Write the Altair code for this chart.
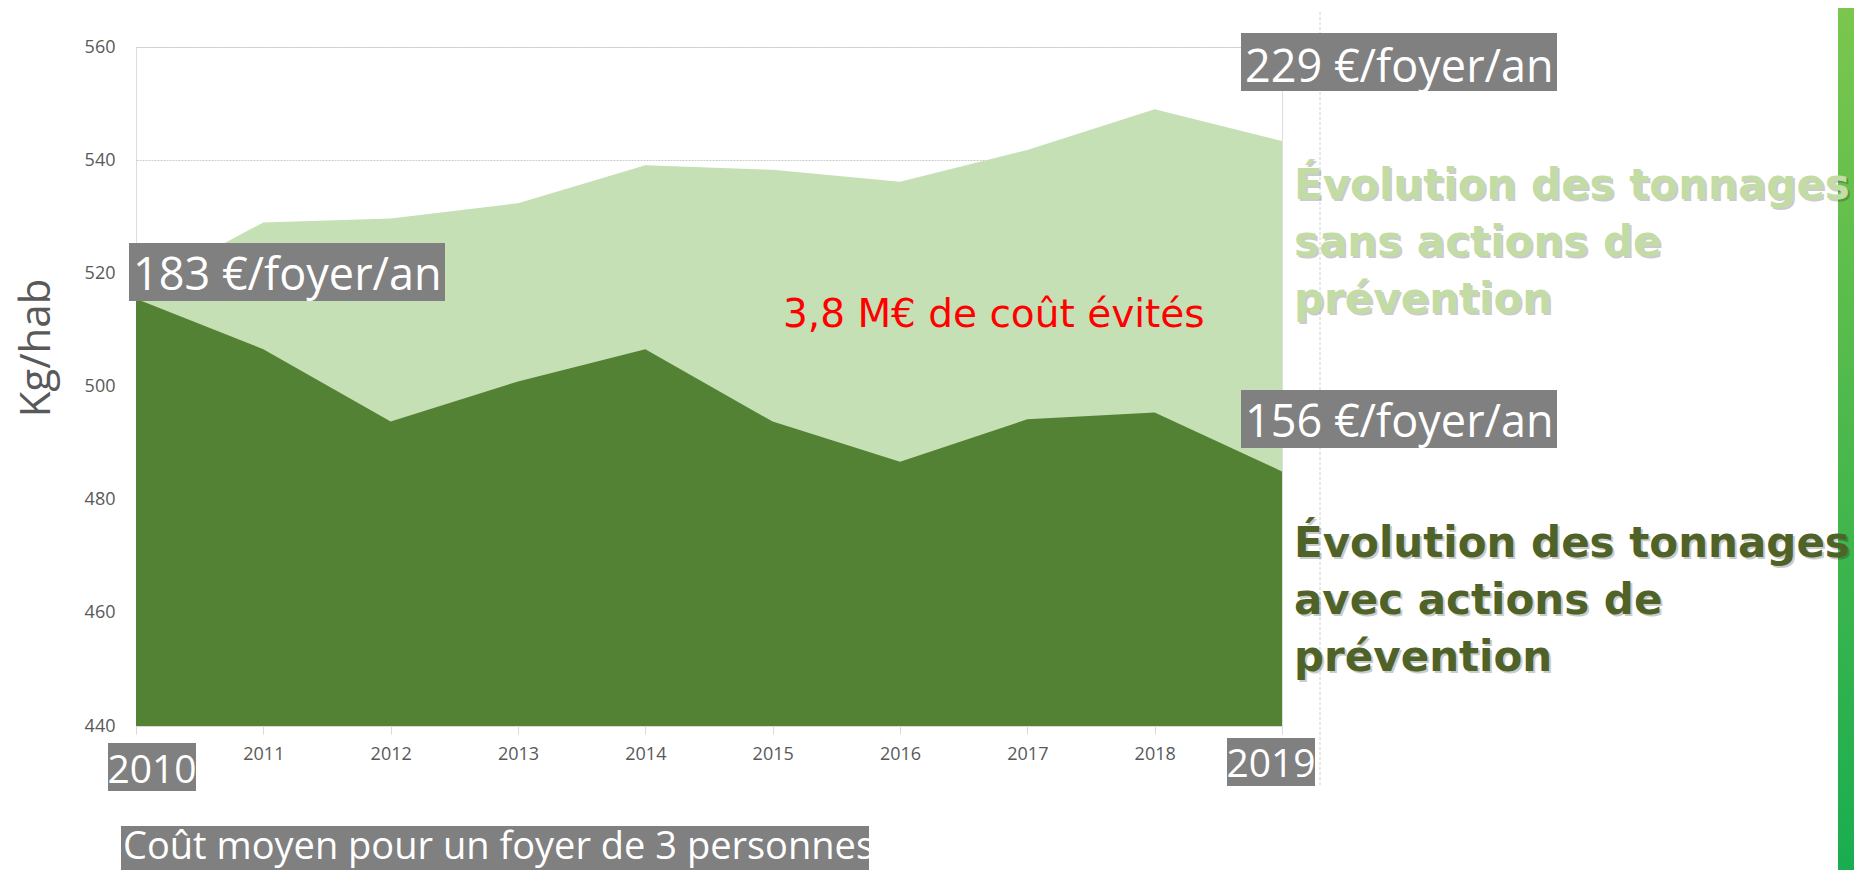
import altair as alt
import pandas as pd

# ---- data ----
years = [2010, 2011, 2012, 2013, 2014, 2015, 2016, 2017, 2018, 2019]
sans_actions = [517.0, 529.0, 529.7, 532.4, 539.1, 538.3, 536.2, 541.8, 549.0, 543.4]
avec_actions = [515.5, 506.6, 493.8, 500.9, 506.6, 493.8, 486.7, 494.2, 495.4, 485.0]
y_ticks = [440, 460, 480, 500, 520, 540, 560]

cost_start = "183 €/foyer/an"
cost_sans = "229 €/foyer/an"
cost_avec = "156 €/foyer/an"
year_first = "2010"
year_last = "2019"
avoided = "3,8 M€ de coût évités"
legend_sans = ["Évolution des tonnages", "sans actions de", "prévention"]
legend_avec = ["Évolution des tonnages", "avec actions de", "prévention"]
y_title = "Kg/hab"
footer = "Coût moyen pour un foyer de 3 personnes"

df = pd.DataFrame({"year": years, "sans": sans_actions, "avec": avec_actions})
one = pd.DataFrame({"k": [0]})

W, H = 1146, 679
LABEL_FONT = "Open Sans"
GREY_BOX = "#808080"

xs = alt.Scale(domain=[2010, 2019], nice=False, zero=False)
ys = alt.Scale(domain=[440, 560], nice=False, zero=False)

x_axis = alt.Axis(
    values=years, format="d",
    labelExpr="datum.value == 2010 || datum.value == 2019 ? '' : datum.label",
    grid=False, domainColor="#d9d9d9", tickColor="#d9d9d9", tickSize=8,
    labelFont=LABEL_FONT, labelFontSize=18, labelColor="#595959",
    labelPadding=11, title=None, zindex=1,
)
y_axis = alt.Axis(
    values=y_ticks, grid=True, gridColor="#cccccc", gridDash=[2, 1],
    domain=False, ticks=False, labelFont=LABEL_FONT, labelFontSize=18,
    labelColor="#595959", labelPadding=21, title=None,
)

base = alt.Chart(df)
area_sans = base.mark_area(color="#c5e0b4").encode(
    x=alt.X("year:Q", scale=xs, axis=x_axis),
    y=alt.Y("sans:Q", scale=ys, axis=y_axis),
    y2=alt.datum(440),
)
area_avec = base.mark_area(color="#548235").encode(
    x=alt.X("year:Q", scale=xs, axis=x_axis),
    y=alt.Y("avec:Q", scale=ys, axis=y_axis),
    y2=alt.datum(440),
)

ann = alt.Chart(one)


def box(x0, x1, y0, y1):
    return ann.mark_rect(color=GREY_BOX).encode(
        x=alt.value(x0), x2=alt.value(x1), y=alt.value(y0), y2=alt.value(y1))


def label(txt, x, y, size, color="white", align="left", font=LABEL_FONT,
          weight="normal", baseline="alphabetic", angle=0, **kw):
    return ann.mark_text(text=txt, align=align, baseline=baseline, font=font,
                         fontSize=size, fontWeight=weight, color=color,
                         angle=angle, **kw).encode(x=alt.value(x), y=alt.value(y))


# separator line and green side bar
vline = ann.mark_rule(color="#d0d0d0", strokeDash=[3, 2], strokeWidth=1).encode(
    x=alt.value(1184), y=alt.value(-35), y2=alt.value(738))
sidebar = ann.mark_rect(
    color=alt.Gradient(gradient="linear",
                       stops=[alt.GradientStop(color="#7cc74e", offset=0),
                              alt.GradientStop(color="#4bb84c", offset=0.5),
                              alt.GradientStop(color="#17ad50", offset=1)],
                       x1=0, x2=0, y1=0, y2=1)).encode(
    x=alt.value(1702), x2=alt.value(1740), y=alt.value(-50), y2=alt.value(840))

layers = [
    area_sans, area_avec, vline, sidebar,
    box(-7, 309, 196, 254), label(cost_start, -3, 243, 45),
    box(1105, 1421, -14, 44), label(cost_sans, 1109, 35, 45),
    box(1105, 1421, 343, 401), label(cost_avec, 1109, 390, 45),
    box(-28, 60, 696, 744), label(year_first, 16, 736, 39, align="center"),
    box(1091, 1179, 691, 739), label(year_last, 1135, 730, 39, align="center"),
    box(-15, 733, 779, 830), label(footer, -13, 812, 38),
    label(avoided, 647, 280, 39, color="#ff0000", font="DejaVu Sans"),
    label(y_title, -99, 301, 42, color="#595959", align="center",
          baseline="middle", angle=270),
    # legend texts with a soft shadow
    label(legend_sans, 1160, 154, 42, color="#000000", font="DejaVu Sans",
          weight="bold", lineHeight=57, opacity=0.2),
    label(legend_sans, 1158, 152, 42, color="#c3dca6", font="DejaVu Sans",
          weight="bold", lineHeight=57),
    label(legend_avec, 1160, 512, 42, color="#000000", font="DejaVu Sans",
          weight="bold", lineHeight=57, opacity=0.2),
    label(legend_avec, 1158, 510, 42, color="#4f6228", font="DejaVu Sans",
          weight="bold", lineHeight=57),
]

chart = alt.layer(*layers).properties(
    width=W, height=H,
    autosize=alt.AutoSizeParams(type="none"),
    padding={"left": 128, "top": 39, "right": 572, "bottom": 144},
).configure_view(strokeWidth=0, stroke="transparent").configure_axisX(
    grid=False).configure_axisY(domain=False).configure(background="white")

chart.save("out.html", embed_options={"renderer": "svg", "actions": False})
